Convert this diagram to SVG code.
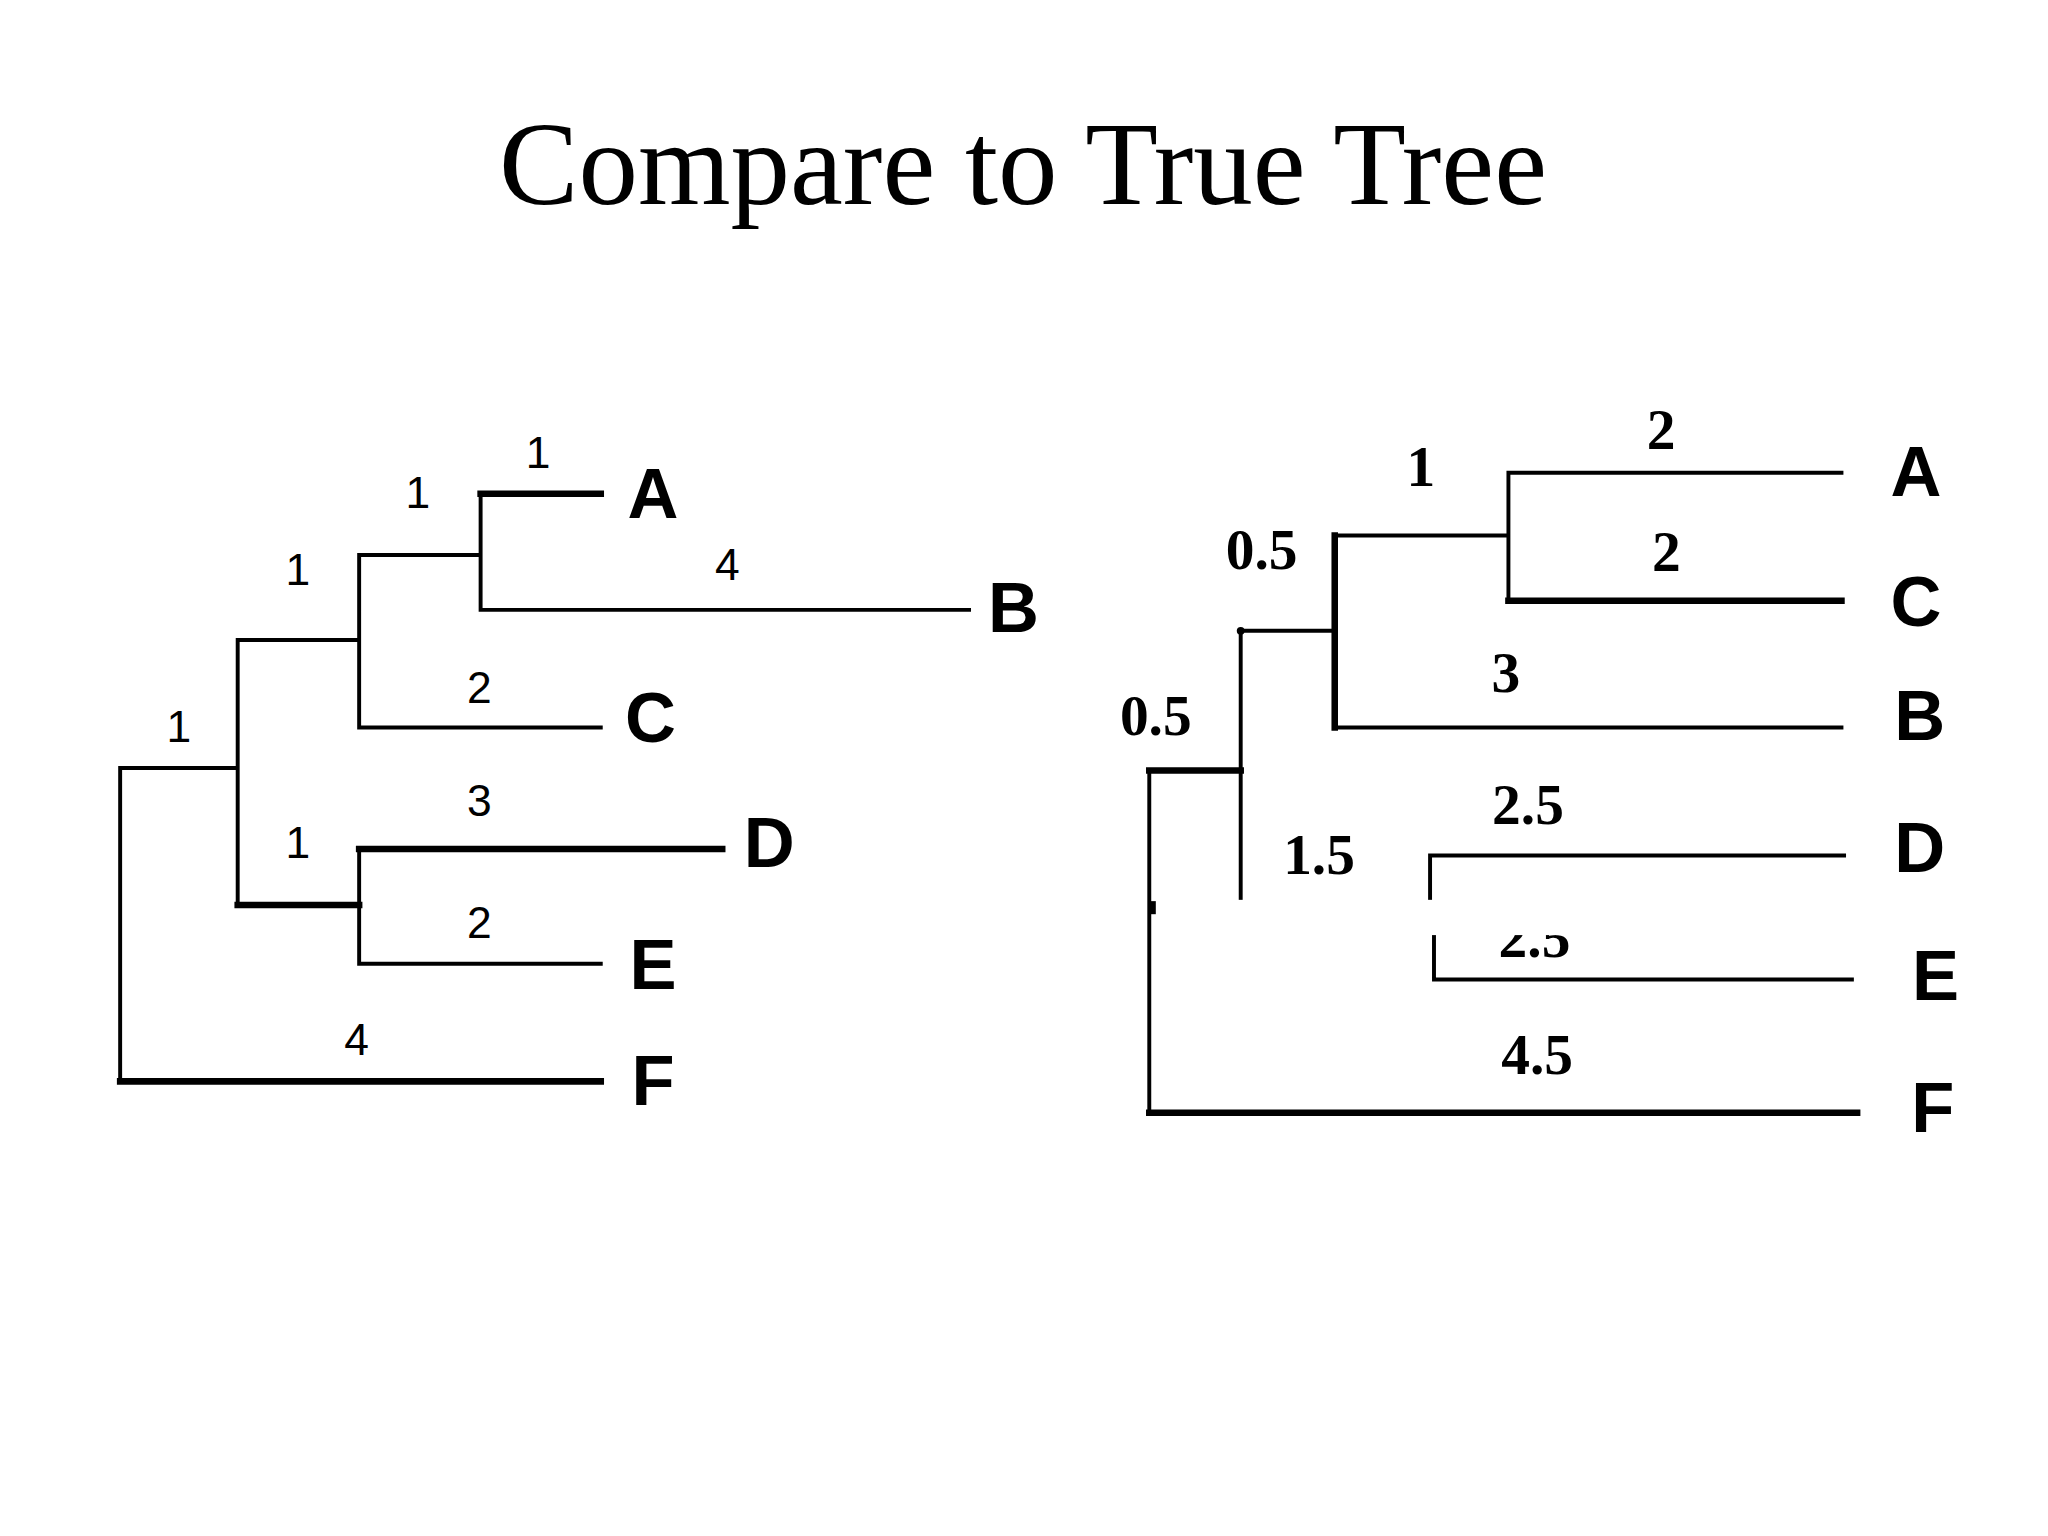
<svg xmlns="http://www.w3.org/2000/svg" width="2048" height="1536" viewBox="0 0 2048 1536">
<style>
.l{stroke:#000;stroke-width:3;fill:none;stroke-linecap:square}
.t{stroke-width:5}
.n{font-family:"Liberation Sans",Arial,sans-serif;font-size:34px;text-anchor:middle}
.m{font-family:"Liberation Serif","Times New Roman",serif;font-size:44px;font-weight:bold;text-anchor:middle}
.k{font-family:"Liberation Sans",Arial,sans-serif;font-size:54px;font-weight:bold;text-anchor:middle}
</style>
<rect width="2048" height="1536" fill="#fff"/>
<text x="1023" y="204" font-family="Liberation Serif,'Times New Roman',serif" font-size="119" text-anchor="middle">Compare to True Tree</text>
<g transform="scale(1.306)">
<g id="connectors">
<path class="l" d="M92 588V828M92 588H182M182 490V693M182 490H275M275 425V557M275 425H368M368 378V467M368 467H742M275 557H460M275 650V738M275 738H460"/>
<path class="l t" d="M368 378H460M182 693H275M275 650H553M92 828H460"/>
<path class="l" d="M880 590V852M950 483V688M950 483H1022M1155 362V460M1155 362H1410M1022 557H1410M1095 655V688M1098 716V750M1095 655H1412M1098 750H1418M1022 410H1155"/>
<path class="l t" d="M880 590H950M1022 410V557M1155 460H1410M880 852H1422"/>
<circle cx="950" cy="483" r="3"/>
<rect x="880" y="690" width="8" height="10"/>
</g>
<g id="left-labels">
<text class="n" x="412" y="358">1</text><text class="n" x="320" y="389">1</text><text class="n" x="228" y="448">1</text><text class="n" x="137" y="568">1</text>
<text class="n" x="557" y="444">4</text><text class="n" x="367" y="538">2</text><text class="n" x="367" y="625">3</text><text class="n" x="228" y="657">1</text><text class="n" x="367" y="718">2</text><text class="n" x="273" y="808">4</text>
</g>
<g id="right-labels">
<text class="m" x="1272" y="344">2</text><text class="m" x="1088" y="372">1</text><text class="m" x="1276" y="437">2</text><text class="m" x="966" y="436">0.5</text><text class="m" x="1153" y="530">3</text><text class="m" x="885" y="563">0.5</text><text class="m" x="1170" y="631">2.5</text><text class="m" x="1010" y="669">1.5</text><text class="m" x="1175" y="733">2.5</text><text class="m" x="1177" y="822">4.5</text>
</g>
<rect x="885" y="689" width="345" height="27" fill="#fff"/>
<g id="node-A1"><text class="k" x="500" y="397">A</text></g>
<g id="node-B1"><text class="k" x="776" y="484">B</text></g>
<g id="node-C1"><text class="k" x="498" y="568">C</text></g>
<g id="node-D1"><text class="k" x="589" y="664">D</text></g>
<g id="node-E1"><text class="k" x="500" y="757">E</text></g>
<g id="node-F1"><text class="k" x="500" y="846">F</text></g>
<g id="node-A2"><text class="k" x="1467" y="380">A</text></g>
<g id="node-C2"><text class="k" x="1467" y="479">C</text></g>
<g id="node-B2"><text class="k" x="1470" y="567">B</text></g>
<g id="node-D2"><text class="k" x="1470" y="668">D</text></g>
<g id="node-E2"><text class="k" x="1482" y="766">E</text></g>
<g id="node-F2"><text class="k" x="1480" y="867">F</text></g>
</g>
</svg>
